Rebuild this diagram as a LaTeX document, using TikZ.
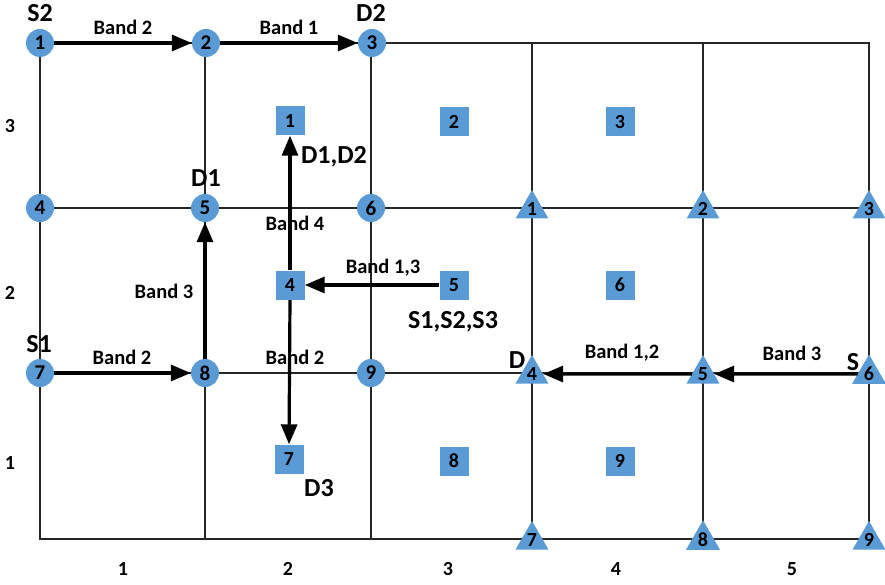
\documentclass[tikz,border=0pt]{standalone}
\usepackage{fontspec}
\setmainfont{Carlito}
\usetikzlibrary{arrows.meta,shapes.geometric}
\definecolor{nodeblue}{HTML}{5B9BD5}
\tikzset{
  gridline/.style={line width=1.5pt, black!85},
  cnode/.style={circle, fill=nodeblue, minimum size=28pt, inner sep=0pt,
    font=\fontsize{21}{21}\selectfont\bfseries},
  snode/.style={rectangle, fill=nodeblue, minimum size=29pt, inner sep=0pt,
    font=\fontsize{20}{20}\selectfont\bfseries},
  tnode/.style={regular polygon, regular polygon sides=3, fill=nodeblue,
    minimum size=38pt, inner sep=0pt, font=\fontsize{20}{20}\selectfont\bfseries},
  band/.style={font=\fontsize{20.5}{20.5}\selectfont\bfseries},
  tag/.style={font=\fontsize{26}{26}\selectfont\bfseries},
  axis/.style={font=\fontsize{20}{20}\selectfont\bfseries},
  flow/.style={line width=3.2pt, -{Triangle[length=20pt,width=16pt]}},
}
\begin{document}
\begin{tikzpicture}[x=1pt,y=-1pt]
\useasboundingbox (0,0) rectangle (885,585);
\fill[white] (0,0) rectangle (885,585);

% grid
\draw[gridline] (40,43) rectangle (869,539);
\foreach \gx in {205,371,532,703} \draw[gridline] (\gx,43) -- (\gx,539);
\foreach \gy in {208,373} \draw[gridline] (40,\gy) -- (869,\gy);

% circle nodes
\node[cnode] (c1) at (40,43) {1};
\node[cnode] (c2) at (206,43) {2};
\node[cnode] (c3) at (372,43) {3};
\node[cnode] (c4) at (40,208) {4};
\node[cnode] (c5) at (205,208) {5};
\node[cnode] (c6) at (371,208) {6};
\node[cnode] (c7) at (40,373) {7};
\node[cnode] (c8) at (205,373) {8};
\node[cnode] (c9) at (371,373) {9};

% triangle nodes
\node[tnode] (t1) at (532,209) {1};
\node[tnode] (t2) at (703,209) {2};
\node[tnode] (t3) at (869,209) {3};
\node[tnode] (t4) at (532,374) {4};
\node[tnode] (t5) at (703,374) {5};
\node[tnode] (t6) at (869,374) {6};
\node[tnode] (t7) at (532,540) {7};
\node[tnode] (t8) at (703,540) {8};
\node[tnode] (t9) at (869,540) {9};

% square nodes
\node[snode] (s1) at (290,121) {1};
\node[snode] (s2) at (454,122) {2};
\node[snode] (s3) at (620,122) {3};
\node[snode] (s4) at (290,285) {4};
\node[snode] (s5) at (454,285) {5};
\node[snode] (s6) at (620,285) {6};
\node[snode] (s7) at (289,459) {7};
\node[snode] (s8) at (454,461) {8};
\node[snode] (s9) at (620,461) {9};

% flows
\draw[flow] (c1) -- (c2);
\draw[flow] (c2) -- (c3);
\draw[flow] (c7) -- (c8);
\draw[flow] (c8) -- (c5);
\draw[flow] (s4.north) -- (s1.south);
\draw[flow] (s4.south) -- (s7.north);
\draw[flow] (s5) -- (s4);
\draw[flow] (t5) -- (t4);
\draw[flow] (t6) -- (t5);
\node[snode] at (s4) {4};

% band labels
\node[band] (b1) at (123,27) {Band 2};
\node[band] (b2) at (289,27) {Band 1};
\node[band] (b3) at (295,223) {Band 4};
\node[band] (b4) at (383,268) {Band 1,3};
\node[band] (b5) at (164,291) {Band 3};
\node[band] (b6) at (122,357) {Band 2};
\node[band] (b7) at (295,357) {Band 2};
\node[band] (b8) at (622,353) {Band 1,2};
\node[band] (b9) at (792,353) {Band 3};

% source / destination tags
\node[tag] (lS2) at (40,13) {S2};
\node[tag] (lD2) at (371,13) {D2};
\node[tag] (lD12) at (334,157) {D1,D2};
\node[tag] (lD1) at (206,178) {D1};
\node[tag] (lS123) at (453,322) {S1,S2,S3};
\node[tag] (lS1) at (39,344) {S1};
\node[tag] (lD3) at (319,488) {D3};
\node[tag] (lD) at (517,360) {D};
\node[tag] (lS) at (853,362) {S};

% axis numbers
\node[axis] (y3) at (10,126) {3};
\node[axis] (y2) at (10,293) {2};
\node[axis] (y1) at (10,463) {1};
\node[axis] (x1) at (123,569) {1};
\node[axis] (x2) at (288,569) {2};
\node[axis] (x3) at (448,569) {3};
\node[axis] (x4) at (616,569) {4};
\node[axis] (x5) at (792,569) {5};
\end{tikzpicture}
\end{document}
